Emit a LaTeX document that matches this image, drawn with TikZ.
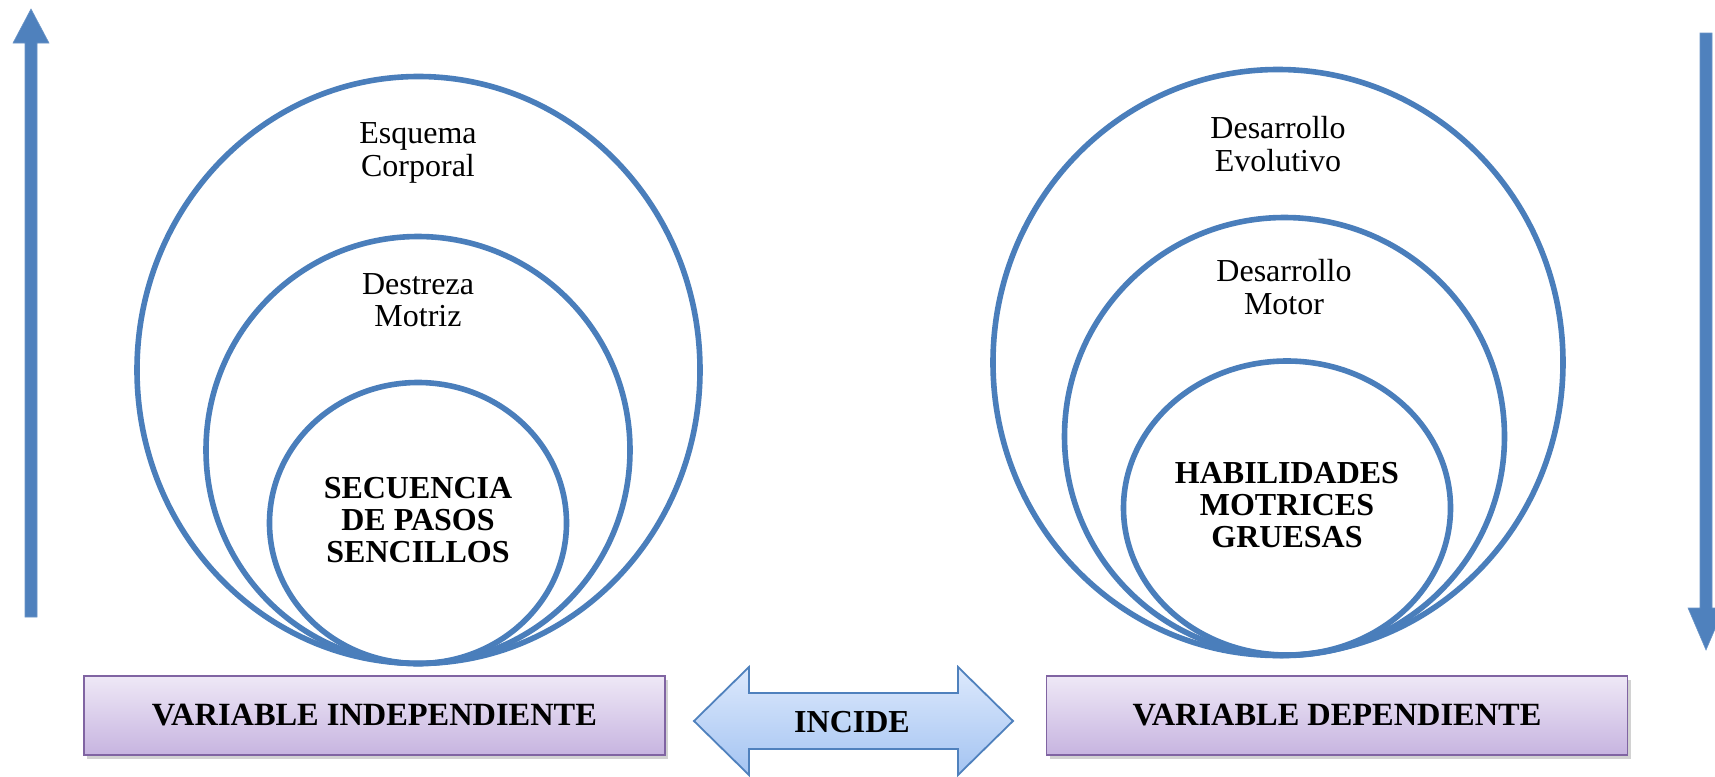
\documentclass[tikz,border=0pt]{standalone}
\usepackage{fontspec}
\setmainfont{Liberation Serif}
\usetikzlibrary{shadows}
\definecolor{circblue}{HTML}{4A7EBB}
\definecolor{arrblue}{HTML}{4F81BD}
\definecolor{boxborder}{HTML}{8064A2}
\definecolor{boxtop}{HTML}{EEE8F6}
\definecolor{boxbot}{HTML}{C7B4E0}
\definecolor{datop}{HTML}{DDE9FC}
\definecolor{dabot}{HTML}{A4C4F2}
\begin{document}
\begin{tikzpicture}[x=0.5pt,y=-0.5pt,
  ring/.style={draw=circblue, line width=2.8pt},
  lbl/.style={align=center, font=\fontsize{16}{16.2}\selectfont, inner sep=0pt},
  blbl/.style={align=center, font=\fontsize{16}{16.2}\selectfont\bfseries, inner sep=0pt},
  varbox/.style={draw=boxborder, line width=0.9pt, top color=boxtop, bottom color=boxbot,
    minimum width=290.5pt, minimum height=39.5pt, inner sep=0pt,
    drop shadow={shadow xshift=1.5pt, shadow yshift=-2pt, opacity=0.35},
    font=\fontsize{16.2}{16.2}\selectfont\bfseries},
  vert/.style={fill=arrblue, draw=arrblue!85!white, line width=0.3pt},
  blockarrow/.style={draw=arrblue, line width=0.9pt, top color=datop, bottom color=dabot}
]
\useasboundingbox (0,0) rectangle (1715,777);
\fill[white] (0,0) rectangle (1715,777);

% vertical arrows
\fill[vert] (25,617) -- (25,43) -- (13,43) -- (31,9) -- (49,43) -- (37,43) -- (37,617) -- cycle;
\fill[vert] (1700,33) -- (1712,33) -- (1712,608) -- (1724,608) -- (1706,650) -- (1688,608) -- (1700,608) -- cycle;

% left rings
\coordinate (LB) at (418.5,370);
\coordinate (LM) at (418,450);
\coordinate (LS) at (418,523);
\draw[ring] (LB) ellipse [x radius=281.5, y radius=293.5];
\draw[ring] (LM) ellipse [x radius=212, y radius=213.5];
\draw[ring] (LS) ellipse [x radius=148.5, y radius=140.5];

% right rings
\coordinate (RB) at (1278,362.5);
\coordinate (RM) at (1284.5,436.5);
\coordinate (RS) at (1287,508);
\draw[ring] (RB) ellipse [x radius=285, y radius=293];
\draw[ring] (RM) ellipse [x radius=220, y radius=219];
\draw[ring] (RS) ellipse [x radius=163.5, y radius=147];

% texts
\node[lbl] (t1) at (418,153) {Esquema\\Corporal};
\node[lbl] (t2) at (418,300) {Destreza\\Motriz};
\node[blbl] (t3) at (418,520) {SECUENCIA\\DE PASOS\\SENCILLOS};
\node[lbl] (t4) at (1278,144) {Desarrollo\\Evolutivo};
\node[lbl] (t5) at (1284,287) {Desarrollo\\Motor};
\node[blbl] (t6) at (1287,505) {HABILIDADES\\MOTRICES\\GRUESAS};

% boxes
\node[varbox] (vi) at (374.5,715.5) {VARIABLE INDEPENDIENTE};
\node[varbox] (vd) at (1337,715.5) {VARIABLE DEPENDIENTE};

% double arrow
\coordinate (al) at (694,721);
\coordinate (ar) at (1013,721);
\draw[blockarrow] (al) -- (749,667) -- (749,693) -- (958,693) -- (958,667) -- (ar)
  -- (958,775) -- (958,749) -- (749,749) -- (749,775) -- cycle;
\node[blbl] (inc) at (852,722) {INCIDE};
\end{tikzpicture}
\end{document}
